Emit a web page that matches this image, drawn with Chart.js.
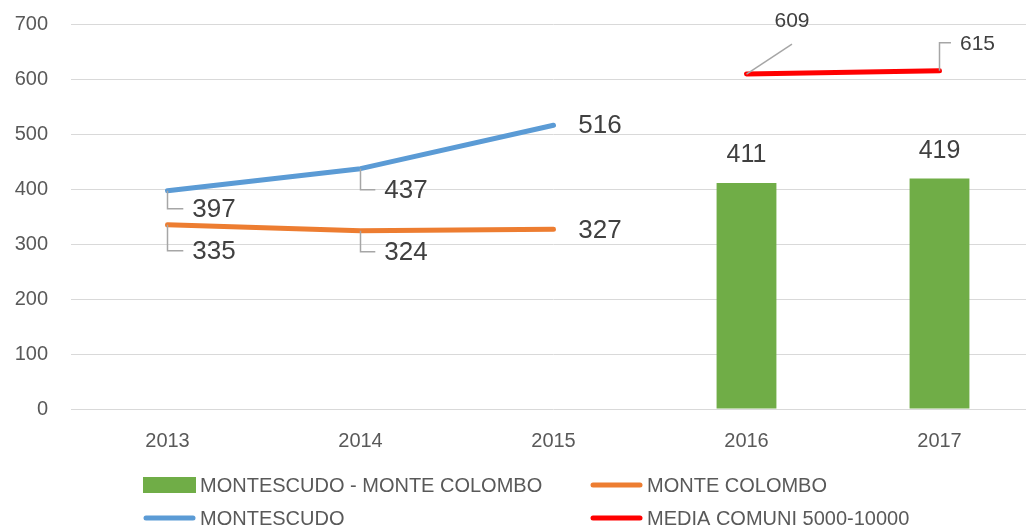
<!DOCTYPE html>
<html>
<head>
<meta charset="utf-8">
<script src="https://cdn.jsdelivr.net/npm/chart.js@4.4.0/dist/chart.umd.min.js"></script>
<style>
  html, body { margin: 0; padding: 0; background: #fff; overflow: hidden; }
  #wrap { width: 1040px; height: 529px; }
</style>
</head>
<body>
<div id="wrap"><canvas id="chart" width="1040" height="529"></canvas></div>
<script>
// data
const years = ["2013", "2014", "2015", "2016", "2017"];
const yMin = 0;
const yMax = 700;
const yStep = 100;

const montescudoMonteColombo = [null, null, null, 411, 419];
const monteColombo = [335, 324, 327, null, null];
const montescudo = [397, 437, 516, null, null];
const mediaComuni = [null, null, null, 609, 615];

const seriesNames = [
  "MONTESCUDO - MONTE COLOMBO",
  "MONTE COLOMBO",
  "MONTESCUDO",
  "MEDIA COMUNI 5000-10000",
];

const FONT = "'Liberation Sans', Arial, sans-serif";
const TEXT_GREY = "#595959";
const LABEL_GREY = "#404040";

// where each value label sits, relative to its point (style only)
const labelPlacement = [
  [null, null, null, { dx: 0, dy: -28, size: 25 }, { dx: 0, dy: -27, size: 25 }],
  [
    { dx: 46.5, dy: 27, size: 26, leader: "elbow" },
    { dx: 45.5, dy: 22, size: 26, leader: "elbow" },
    { dx: 46.5, dy: 2, size: 26 },
    null, null,
  ],
  [
    { dx: 46.5, dy: 19, size: 26, leader: "elbow" },
    { dx: 45.5, dy: 22, size: 26, leader: "elbow" },
    { dx: 46.5, dy: 1, size: 26 },
    null, null,
  ],
  [null, null, null,
    { dx: 45.5, dy: -53, size: 21, leader: "diag" },
    { dx: 38, dy: -27, size: 21, leader: "elbow" },
  ],
];

const valueLabels = {
  id: "valueLabels",
  afterDatasetsDraw(chart) {
    const ctx = chart.ctx;
    chart.data.datasets.forEach((ds, di) => {
      const meta = chart.getDatasetMeta(di);
      ds.data.forEach((v, i) => {
        const place = labelPlacement[di][i];
        if (v == null || !place) return;
        const el = meta.data[i];
        const px = el.x, py = el.y;
        const lx = px + place.dx, ly = py + place.dy;
        ctx.save();
        ctx.font = place.size + "px " + FONT;
        const w = ctx.measureText(String(v)).width;
        if (place.leader) {
          ctx.strokeStyle = "#A6A6A6";
          ctx.lineWidth = 1.5;
          ctx.beginPath();
          ctx.moveTo(px, py);
          if (place.leader === "elbow") {
            ctx.lineTo(px, ly - 1);
            ctx.lineTo(lx - w / 2 - 9, ly - 1);
          } else {
            ctx.lineTo(lx, ly + 23);
          }
          ctx.stroke();
        }
        ctx.fillStyle = LABEL_GREY;
        ctx.textAlign = "center";
        ctx.textBaseline = "middle";
        ctx.fillText(String(v), lx, ly);
        ctx.restore();
      });
    });
  },
};

// two-column legend under the plot
const gridLegend = {
  id: "gridLegend",
  afterDraw(chart) {
    const ctx = chart.ctx;
    const cols = [143, 590];
    const rows = [485, 518];
    const slots = [[0, 0], [1, 0], [0, 1], [1, 1]];
    chart.data.datasets.forEach((ds, i) => {
      const x = cols[slots[i][0]];
      const y = rows[slots[i][1]];
      ctx.save();
      if (ds.type === "line") {
        ctx.strokeStyle = ds.borderColor;
        ctx.lineWidth = 5;
        ctx.lineCap = "round";
        ctx.beginPath();
        ctx.moveTo(x + 3, y);
        ctx.lineTo(x + 50, y);
        ctx.stroke();
      } else {
        ctx.fillStyle = ds.backgroundColor;
        ctx.fillRect(x, y - 8, 53, 16);
      }
      ctx.fillStyle = TEXT_GREY;
      ctx.font = "20px " + FONT;
      ctx.textAlign = "left";
      ctx.textBaseline = "middle";
      ctx.fillText(ds.label, x + 57, y + 1);
      ctx.restore();
    });
  },
};

const lineStyle = {
  type: "line",
  borderWidth: 5,
  pointRadius: 0,
  borderCapStyle: "round",
  borderJoinStyle: "round",
  tension: 0,
  fill: false,
};

const ctx = document.getElementById("chart").getContext("2d");
new Chart(ctx, {
  type: "bar",
  data: {
    labels: years,
    datasets: [
      {
        label: seriesNames[0],
        data: montescudoMonteColombo,
        backgroundColor: "#70AD47",
        barPercentage: 1,
        categoryPercentage: 0.31,
        order: 4,
      },
      { ...lineStyle, label: seriesNames[1], data: monteColombo, borderColor: "#ED7D31", order: 3 },
      { ...lineStyle, label: seriesNames[2], data: montescudo, borderColor: "#5B9BD5", order: 2 },
      { ...lineStyle, label: seriesNames[3], data: mediaComuni, borderColor: "#FF0000", order: 1 },
    ],
  },
  options: {
    responsive: false,
    animation: false,
    layout: { padding: { top: 24, right: 4, left: 0, bottom: 0 } },
    plugins: {
      legend: { display: false },
      tooltip: { enabled: false },
    },
    scales: {
      x: {
        grid: { display: false },
        border: { display: false },
        ticks: { color: TEXT_GREY, font: { family: FONT, size: 20 }, padding: 12 },
        afterFit(scale) { scale.height = 120; },
      },
      y: {
        min: yMin,
        max: yMax,
        ticks: { stepSize: yStep, color: TEXT_GREY, font: { family: FONT, size: 20 }, padding: 0 },
        grid: { color: "#D9D9D9", lineWidth: 1, drawTicks: true, tickLength: 23, tickColor: "rgba(0,0,0,0)" },
        border: { display: false },
        afterFit(scale) { scale.width = 71; },
      },
    },
  },
  plugins: [valueLabels, gridLegend],
});
</script>
</body>
</html>
